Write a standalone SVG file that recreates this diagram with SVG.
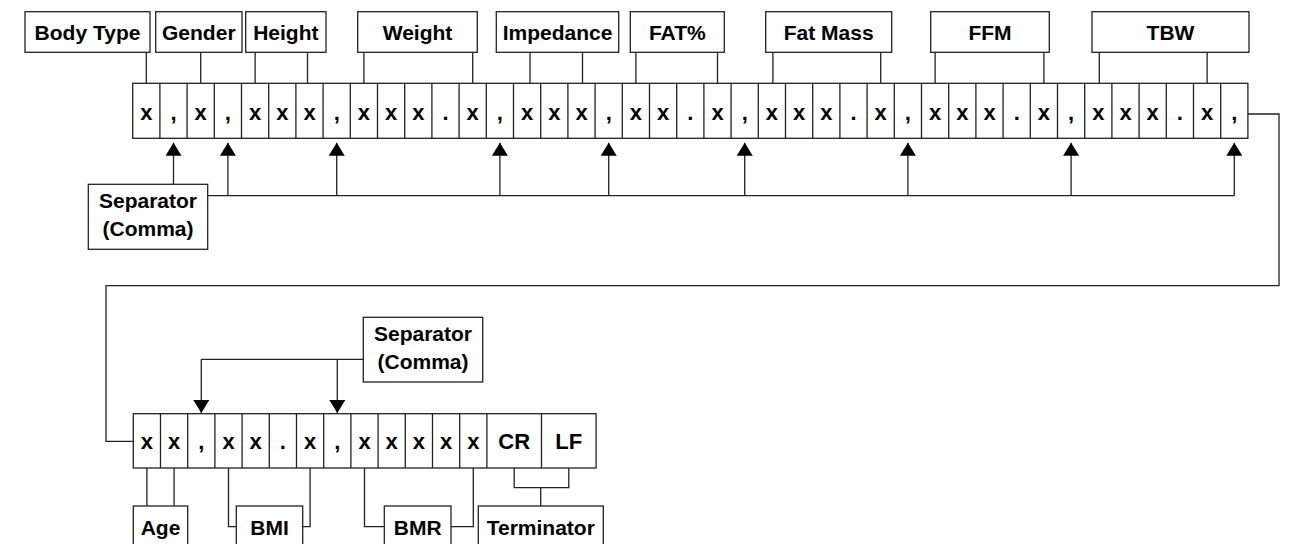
<svg xmlns="http://www.w3.org/2000/svg" width="1290" height="544" viewBox="0 0 1290 544">
<defs>
<style>
.b{fill:#fff;stroke:#222;stroke-width:1.3}
.l{fill:none;stroke:#222;stroke-width:1.3}
.t{font-family:"Liberation Sans",Arial,sans-serif;font-weight:bold;font-size:21px;fill:#000;text-anchor:middle}
.c{font-family:"Liberation Sans",Arial,sans-serif;font-weight:bold;font-size:22px;fill:#000;text-anchor:middle}
</style>
<marker id="arr" viewBox="0 0 13 16" refX="13" refY="8" markerWidth="13" markerHeight="16" markerUnits="userSpaceOnUse" orient="auto">
<path d="M0,0 L13,8 L0,16 z" fill="#000"/>
</marker>
</defs>
<rect width="1290" height="544" fill="#fff"/>

<g id="connectors">
<!-- top leader lines -->
<path class="l" d="M146.3,52 V83.3 M200.7,52 V83.3 M255.1,52 V83.3 M307.5,52 V83.3 M363.9,52 V83.3 M472.7,52 V83.3 M530,52 V83.3 M582.5,52 V83.3 M635.9,52 V83.3 M717.5,52 V83.3 M772.9,52 V83.3 M880.7,52 V83.3 M935.1,52 V83.3 M1043.9,52 V83.3 M1099.3,52 V83.3 M1207.1,52 V83.3"/>
<!-- separator 1 -->
<path class="l" d="M207.7,195.7 H1234.3"/>
<line class="l" x1="173.5" y1="184.3" x2="173.5" y2="142.7" marker-end="url(#arr)"/>
<line class="l" x1="227.9" y1="195.7" x2="227.9" y2="142.7" marker-end="url(#arr)"/>
<line class="l" x1="336.7" y1="195.7" x2="336.7" y2="142.7" marker-end="url(#arr)"/>
<line class="l" x1="499.9" y1="195.7" x2="499.9" y2="142.7" marker-end="url(#arr)"/>
<line class="l" x1="608.7" y1="195.7" x2="608.7" y2="142.7" marker-end="url(#arr)"/>
<line class="l" x1="744.7" y1="195.7" x2="744.7" y2="142.7" marker-end="url(#arr)"/>
<line class="l" x1="907.9" y1="195.7" x2="907.9" y2="142.7" marker-end="url(#arr)"/>
<line class="l" x1="1071.1" y1="195.7" x2="1071.1" y2="142.7" marker-end="url(#arr)"/>
<line class="l" x1="1234.3" y1="195.7" x2="1234.3" y2="142.7" marker-end="url(#arr)"/>
<!-- wrap connector -->
<path class="l" d="M1247.9,114 H1279 V285.7 H106 V441.3 H133.3"/>
<!-- separator 2 -->
<path class="l" d="M363.3,359.3 H201.3"/>
<line class="l" x1="201.3" y1="359.3" x2="201.3" y2="413" marker-end="url(#arr)"/>
<line class="l" x1="337.3" y1="359.3" x2="337.3" y2="413" marker-end="url(#arr)"/>
<!-- bottom leaders -->
<path class="l" d="M146.9,468 V506 M174.1,468 V506"/>
<path class="l" d="M228.5,468 V526.7 H236.3 M310.1,468 V526.7 H302.7"/>
<path class="l" d="M364.5,468 V526.7 H384.3 M473.3,468 V526.7 H451"/>
<path class="l" d="M514.2,468 V487.7 H568.8 V468 M540.7,487.7 V506"/>
</g>

<g id="record1">
<rect class="b" x="132.7" y="83.3" width="1115.2" height="55"/>
<path class="l" d="M159.9,83.3V138.3M187.1,83.3V138.3M214.3,83.3V138.3M241.5,83.3V138.3M268.7,83.3V138.3M295.9,83.3V138.3M323.1,83.3V138.3M350.3,83.3V138.3M377.5,83.3V138.3M404.7,83.3V138.3M431.9,83.3V138.3M459.1,83.3V138.3M486.3,83.3V138.3M513.5,83.3V138.3M540.7,83.3V138.3M567.9,83.3V138.3M595.1,83.3V138.3M622.3,83.3V138.3M649.5,83.3V138.3M676.7,83.3V138.3M703.9,83.3V138.3M731.1,83.3V138.3M758.3,83.3V138.3M785.5,83.3V138.3M812.7,83.3V138.3M839.9,83.3V138.3M867.1,83.3V138.3M894.3,83.3V138.3M921.5,83.3V138.3M948.7,83.3V138.3M975.9,83.3V138.3M1003.1,83.3V138.3M1030.3,83.3V138.3M1057.5,83.3V138.3M1084.7,83.3V138.3M1111.9,83.3V138.3M1139.1,83.3V138.3M1166.3,83.3V138.3M1193.5,83.3V138.3M1220.7,83.3V138.3"/>
<text class="c" y="120"><tspan x="146.3">x</tspan><tspan x="173.5">,</tspan><tspan x="200.7">x</tspan><tspan x="227.9">,</tspan><tspan x="255.1">x</tspan><tspan x="282.3">x</tspan><tspan x="309.5">x</tspan><tspan x="336.7">,</tspan><tspan x="363.9">x</tspan><tspan x="391.1">x</tspan><tspan x="418.3">x</tspan><tspan x="445.5">.</tspan><tspan x="472.7">x</tspan><tspan x="499.9">,</tspan><tspan x="527.1">x</tspan><tspan x="554.3">x</tspan><tspan x="581.5">x</tspan><tspan x="608.7">,</tspan><tspan x="635.9">x</tspan><tspan x="663.1">x</tspan><tspan x="690.3">.</tspan><tspan x="717.5">x</tspan><tspan x="744.7">,</tspan><tspan x="771.9">x</tspan><tspan x="799.1">x</tspan><tspan x="826.3">x</tspan><tspan x="853.5">.</tspan><tspan x="880.7">x</tspan><tspan x="907.9">,</tspan><tspan x="935.1">x</tspan><tspan x="962.3">x</tspan><tspan x="989.5">x</tspan><tspan x="1016.7">.</tspan><tspan x="1043.9">x</tspan><tspan x="1071.1">,</tspan><tspan x="1098.3">x</tspan><tspan x="1125.5">x</tspan><tspan x="1152.7">x</tspan><tspan x="1179.9">.</tspan><tspan x="1207.1">x</tspan><tspan x="1234.3">,</tspan></text>
</g>

<g id="lbl-bodytype"><rect class="b" x="25" y="11.7" width="125" height="40.6"/><text class="t" x="87.5" y="39.5">Body Type</text></g>
<g id="lbl-gender"><rect class="b" x="155.7" y="11.7" width="86.3" height="40.6"/><text class="t" x="198.8" y="39.5">Gender</text></g>
<g id="lbl-height"><rect class="b" x="245.7" y="11.7" width="80.3" height="40.6"/><text class="t" x="285.8" y="39.5">Height</text></g>
<g id="lbl-weight"><rect class="b" x="357.7" y="11.7" width="119.6" height="40.6"/><text class="t" x="417.5" y="39.5">Weight</text></g>
<g id="lbl-impedance"><rect class="b" x="496.3" y="11.7" width="122.4" height="40.6"/><text class="t" x="557.5" y="39.5">Impedance</text></g>
<g id="lbl-fat"><rect class="b" x="630.3" y="11.7" width="94" height="40.6"/><text class="t" x="677.3" y="39.5">FAT%</text></g>
<g id="lbl-fatmass"><rect class="b" x="765.7" y="11.7" width="126" height="40.6"/><text class="t" x="828.7" y="39.5">Fat Mass</text></g>
<g id="lbl-ffm"><rect class="b" x="930.7" y="11.7" width="118.6" height="40.6"/><text class="t" x="990" y="39.5">FFM</text></g>
<g id="lbl-tbw"><rect class="b" x="1092" y="11.7" width="157" height="40.6"/><text class="t" x="1170.5" y="39.5">TBW</text></g>

<g id="separator1"><rect class="b" x="88.3" y="184.3" width="119.4" height="65"/><text class="t" x="148" y="208">Separator</text><text class="t" x="148" y="236">(Comma)</text></g>

<g id="record2">
<rect class="b" x="133.3" y="413.7" width="462.8" height="54.3"/>
<path class="l" d="M160.5,413.7V468M187.7,413.7V468M214.9,413.7V468M242.1,413.7V468M269.3,413.7V468M296.5,413.7V468M323.7,413.7V468M350.9,413.7V468M378.1,413.7V468M405.3,413.7V468M432.5,413.7V468M459.7,413.7V468M486.9,413.7V468M541.5,413.7V468"/>
<text class="c" y="448.5"><tspan x="146.9">x</tspan><tspan x="174.1">x</tspan><tspan x="201.3">,</tspan><tspan x="228.5">x</tspan><tspan x="255.7">x</tspan><tspan x="282.9">.</tspan><tspan x="310.1">x</tspan><tspan x="337.3">,</tspan><tspan x="364.5">x</tspan><tspan x="391.7">x</tspan><tspan x="418.9">x</tspan><tspan x="446.1">x</tspan><tspan x="473.3">x</tspan><tspan x="514.2">CR</tspan><tspan x="568.8">LF</tspan></text>
</g>

<g id="separator2"><rect class="b" x="363.3" y="317.3" width="119.4" height="64.7"/><text class="t" x="423" y="341">Separator</text><text class="t" x="423" y="369">(Comma)</text></g>

<g id="lbl-age"><rect class="b" x="133.3" y="506" width="54.4" height="50"/><text class="t" x="160.5" y="535">Age</text></g>
<g id="lbl-bmi"><rect class="b" x="236.3" y="506" width="66.4" height="50"/><text class="t" x="269.5" y="535">BMI</text></g>
<g id="lbl-bmr"><rect class="b" x="384.3" y="506" width="66.7" height="50"/><text class="t" x="417.7" y="535">BMR</text></g>
<g id="lbl-terminator"><rect class="b" x="478.3" y="506" width="125" height="50"/><text class="t" x="540.8" y="535">Terminator</text></g>
</svg>
